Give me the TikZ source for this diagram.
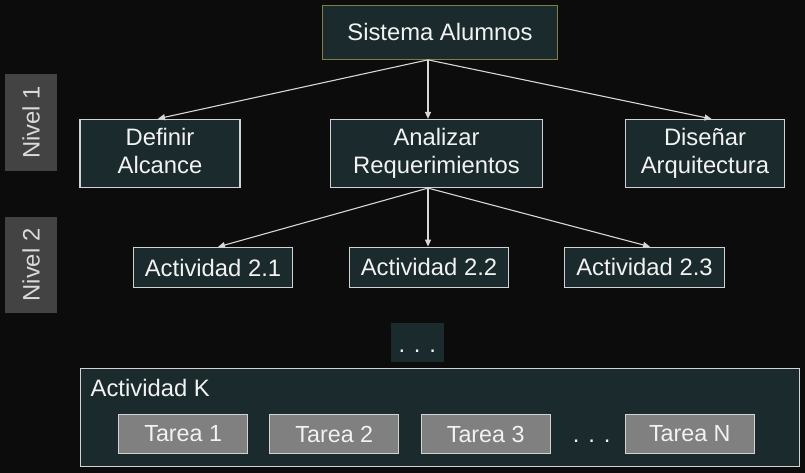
\documentclass[tikz,border=0pt]{standalone}
\usepackage{fontspec}
\setmainfont{Liberation Sans}
\usetikzlibrary{arrows.meta}

\definecolor{fondo}{HTML}{0C0C0C}
\definecolor{caja}{HTML}{1B2A2D}
\definecolor{borde}{HTML}{D2D2D2}
\definecolor{oliva}{HTML}{7F7F42}
\definecolor{nivelgris}{HTML}{434343}
\definecolor{tareagris}{HTML}{808080}
\definecolor{texto}{HTML}{F2F2F2}

\newcommand{\cajastrut}{\rule[-5pt]{0pt}{27pt}}

\begin{document}
\begin{tikzpicture}[x=1pt,y=-1pt,
  box/.style={draw=borde, fill=caja, line width=1.2pt, text=texto, inner sep=0pt, align=center,
    minimum width=#1, minimum height=68pt, font=\fontsize{23.8}{27.4}\selectfont,
    execute at begin node=\cajastrut, execute at end node=\cajastrut},
  act/.style={box=159.5pt, minimum height=40pt},
  nivel/.style={fill=nivelgris, text=texto!90!black, rotate=90, inner sep=0pt,
    minimum width=96.7pt, minimum height=51.7pt, font=\fontsize{23.8}{27.4}\selectfont},
  tarea/.style={draw=borde, fill=tareagris, line width=1.2pt, text=texto, inner sep=0pt,
    minimum width=129pt, minimum height=39.7pt, font=\fontsize{23.3}{27}\selectfont},
  arr/.style={draw=borde!90!white, line width=1.1pt, -{Triangle[length=7pt,width=6pt]}}]
  \useasboundingbox (0,0) rectangle (805,473);
  \fill[fondo] (0,0) rectangle (805,473);

  % nivel labels
  \node[nivel] (nivel1) at (31,122.3) {Nivel 1\hspace{5pt}};
  \node[nivel] (nivel2) at (31,265) {Nivel 2\hspace{5pt}};

  % top
  \node[box=235pt, draw=oliva, minimum height=53.5pt] (sistema) at (440,32.5) {Sistema Alumnos};

  % nivel 1
  \node[box=160pt] (definir) at (160,153.3) {Definir\\Alcance};
  \node[box=211.5pt] (analizar) at (436.5,153.5) {Analizar\\Requerimientos};
  \node[box=159.5pt] (disenar) at (705,153.5) {Diseñar\\Arquitectura};

  % nivel 2
  \node[act] (act1) at (213,267.5) {Actividad 2.1};
  \node[act] (act2) at (429,267.2) {Actividad 2.2};
  \node[act] (act3) at (644.5,267.3) {Actividad 2.3};

  \node[box=52.7pt, draw=none, minimum height=38.7pt] (puntos) at (417.3,342.3) {\raisebox{-1.5pt}{. . .}};

  % actividad K
  \node[box=718.6pt, minimum height=98pt] (actk) at (440,417.7) {};
  \node[anchor=west, text=texto, inner sep=0pt, font=\fontsize{23.8}{27.4}\selectfont]
    (actklabel) at (90.5,388) {Actividad K};
  \node[tarea] (tarea1) at (183.2,434) {Tarea 1};
  \node[tarea] (tarea2) at (334.3,434) {Tarea 2};
  \node[tarea] (tarea3) at (485.7,434) {Tarea 3};
  \node[anchor=base, text=texto, inner sep=0pt, font=\fontsize{23.8}{27.4}\selectfont] (tpuntos) at (591.7,442) {. . .};
  \node[tarea] (tarean) at (689.8,434) {Tarea N};

  % connectors
  \coordinate (hub) at ([xshift=-12pt]sistema.south);
  \draw[arr] (hub) -- ([xshift=-2pt]definir.north);
  \draw[arr] (hub) -- (hub |- analizar.north);
  \draw[arr] (hub) -- ([xshift=6.5pt]disenar.north);
  \draw[arr] (hub |- analizar.south) -- ([xshift=5pt]act1.north);
  \draw[arr] (hub |- analizar.south) -- (hub |- act2.north);
  \draw[arr] (hub |- analizar.south) -- ([xshift=5.5pt]act3.north);
\end{tikzpicture}
\end{document}
